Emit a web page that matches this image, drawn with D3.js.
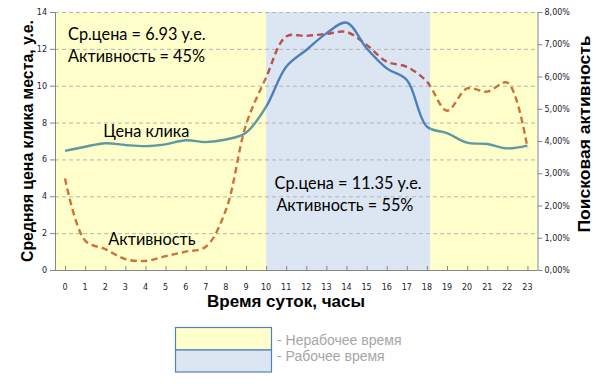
<!DOCTYPE html>
<html><head><meta charset="utf-8">
<script src="https://cdn.jsdelivr.net/npm/d3@7"></script>
<style>body{margin:0;background:#fff}svg{display:block}</style>
</head><body>
<svg id="c" width="600" height="384"></svg>
<script>
const hours = d3.range(0,24);
const hourLabels = hours.map(String);
const price = [6.46,6.69,6.88,6.78,6.72,6.82,7.04,6.94,7.08,7.45,8.86,11.03,11.94,12.84,13.42,12.03,10.94,10.31,7.78,7.43,6.91,6.84,6.6,6.75];
const activity = [2.84,0.91,0.65,0.34,0.28,0.43,0.57,0.72,1.86,4.5,5.97,7.24,7.26,7.32,7.38,6.98,6.46,6.3,5.84,4.94,5.63,5.53,5.81,3.78];
const leftTicks = [0,2,4,6,8,10,12,14];
const rightTicks = [0,1,2,3,4,5,6,7,8];
const workStart = 10, workEnd = 18.17;
const zones = [{from:-0.5,to:workStart,work:false},{from:workStart,to:workEnd,work:true},{from:workEnd,to:23.5,work:false}];
const notes = [
  {text:"Ср.цена = 6.93 у.е.", hour:0.15, val:12.5, anchor:"start"},
  {text:"Активность = 45%", hour:0.15, val:11.3, anchor:"start"},
  {text:"Ср.цена = 11.35 у.е.", hour:14.08, val:4.4, anchor:"middle"},
  {text:"Активность = 55%", hour:13.92, val:3.2, anchor:"middle"},
  {text:"Цена клика", hour:1.9, val:7.2, anchor:"start"},
  {text:"Активность", hour:2.15, val:1.35, anchor:"start"}
];
const legendItems = ["- Нерабочее время","- Рабочее время"];

const svg = d3.select("#c");
const L = 55, R = 537.5, T = 12, B = 270;
const x = d3.scaleLinear().domain([-0.5,23.5]).range([L,R]);
const y = d3.scaleLinear().domain([0,14]).range([B,T]);
const y2 = d3.scaleLinear().domain([0,8]).range([B,T]);

const COL = {yellow:"#ffffcc", blue:"#dce6f2"};
svg.append("g").selectAll("rect").data(zones).join("rect")
  .attr("x",d=>x(d.from)).attr("width",d=>x(d.to)-x(d.from))
  .attr("y",T).attr("height",B-T)
  .attr("fill",d=>d.work?COL.blue:COL.yellow);

svg.append("g").selectAll("line").data(leftTicks.filter(v=>v>0)).join("line")
  .attr("x1",L).attr("x2",R).attr("y1",d=>y(d)+0.5).attr("y2",d=>y(d)+0.5)
  .attr("stroke","#b4b4b4").attr("stroke-dasharray","4,3").attr("stroke-width",1);

const defs = svg.append("defs");
zones.forEach((z,i)=>{
  defs.append("clipPath").attr("id","z"+i).append("rect")
    .attr("x",x(z.from)).attr("width",x(z.to)-x(z.from)).attr("y",0).attr("height",384);
});
const lp = d3.line().x((d,i)=>x(hours[i])).y(d=>y(d)).curve(d3.curveCatmullRom.alpha(0.5));
const la = d3.line().x((d,i)=>x(hours[i])).y(d=>y2(d)).curve(d3.curveCatmullRom.alpha(0.5));
zones.forEach((z,i)=>{
  const g = svg.append("g").attr("clip-path","url(#z"+i+")");
  g.append("path").attr("d",la(activity)).attr("fill","none")
    .attr("stroke",z.work?"#b8504f":"#d0703a").attr("stroke-width",2.4)
    .attr("stroke-dasharray","6.5,4");
  g.append("path").attr("d",lp(price)).attr("fill","none")
    .attr("stroke",z.work?"#4a7ebc":"#5e99a0").attr("stroke-width",2.4);
});

const axisCol = "#868686";
const ax = svg.append("g");
ax.append("line").attr("x1",L+0.5).attr("x2",L+0.5).attr("y1",T).attr("y2",B).attr("stroke",axisCol);
ax.append("line").attr("x1",R+0.5).attr("x2",R+0.5).attr("y1",T).attr("y2",B).attr("stroke",axisCol);
ax.append("line").attr("x1",L).attr("x2",R).attr("y1",B+0.5).attr("y2",B+0.5).attr("stroke",axisCol);
const tickFont = "DejaVu Sans, Verdana, sans-serif";
leftTicks.forEach(v=>{
  ax.append("line").attr("x1",L-5).attr("x2",L).attr("y1",y(v)+0.5).attr("y2",y(v)+0.5).attr("stroke",axisCol);
  ax.append("text").attr("x",L-8).attr("y",y(v)+3).attr("text-anchor","end")
    .attr("font-family",tickFont).attr("font-size",8).attr("fill","#1a1a2e").text(v);
});
rightTicks.forEach(v=>{
  ax.append("line").attr("x1",R).attr("x2",R+5).attr("y1",y2(v)+0.5).attr("y2",y2(v)+0.5).attr("stroke",axisCol);
  ax.append("text").attr("x",R+7).attr("y",y2(v)+3).attr("text-anchor","start")
    .attr("font-family",tickFont).attr("font-size",8).attr("fill","#1a1a2e").text(v.toFixed(2).replace(".",",")+"%");
});
hours.forEach((h,i)=>{
  ax.append("line").attr("x1",x(h)+0.5).attr("x2",x(h)+0.5).attr("y1",B-4).attr("y2",B).attr("stroke",axisCol);
  ax.append("text").attr("x",x(h)).attr("y",B+20).attr("text-anchor","middle")
    .attr("font-family",tickFont).attr("font-size",8).attr("fill","#1a1a2e").text(hourLabels[i]);
});

const bold = "Liberation Sans, Arial, sans-serif";
svg.append("text").attr("transform",`translate(33,141) rotate(-90)`).attr("text-anchor","middle")
  .attr("font-family",bold).attr("font-weight","bold").attr("font-size",17)
  .attr("textLength",242).attr("lengthAdjust","spacingAndGlyphs").text("Средняя цена клика места, у.е.");
svg.append("text").attr("transform",`translate(590,134) rotate(-90)`).attr("text-anchor","middle")
  .attr("font-family",bold).attr("font-weight","bold").attr("font-size",17)
  .attr("textLength",197).attr("lengthAdjust","spacingAndGlyphs").text("Поисковая активность");
svg.append("text").attr("x",286).attr("y",307).attr("text-anchor","middle")
  .attr("font-family",bold).attr("font-weight","bold").attr("font-size",17)
  .attr("textLength",158).attr("lengthAdjust","spacingAndGlyphs").text("Время суток, часы");

const noteFont = "Lato, 'Open Sans', sans-serif";
svg.append("g").selectAll("text").data(notes).join("text")
  .attr("x",d=>x(d.hour)).attr("y",d=>y(d.val)).attr("text-anchor",d=>d.anchor)
  .attr("font-family",noteFont).attr("font-size",16.3).attr("fill","#000").text(d=>d.text);

const lg = svg.append("g");
lg.append("rect").attr("x",175.5).attr("y",327.5).attr("width",96).attr("height",22.5).attr("fill",COL.yellow).attr("stroke","#4f81bd").attr("stroke-width",1.2);
lg.append("rect").attr("x",175.5).attr("y",350).attr("width",96).attr("height",22).attr("fill",COL.blue).attr("stroke","#4f81bd").attr("stroke-width",1.2);
legendItems.forEach((t,i)=>{
  lg.append("text").attr("x",277).attr("y",345+i*15.5).attr("font-family","Liberation Sans, Arial, sans-serif")
    .attr("font-size",14).attr("fill","#a6a6a6").text(t);
});
</script>
</body></html>
